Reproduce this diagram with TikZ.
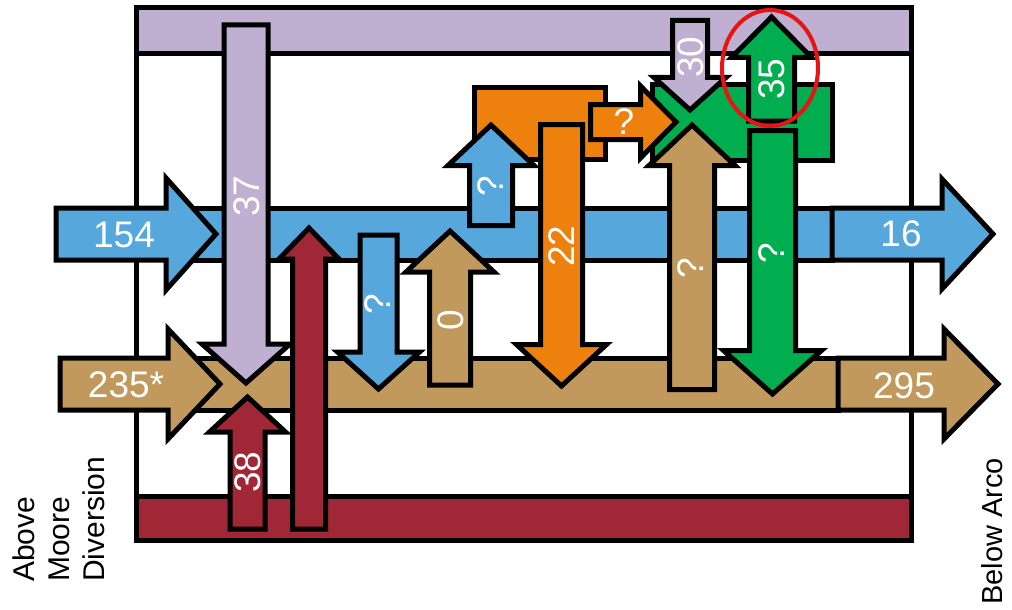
\documentclass[tikz,border=0pt]{standalone}
\usepackage{fontspec}
\setmainfont{Liberation Sans}
\definecolor{cblue}{RGB}{86,167,219}
\definecolor{ctan}{RGB}{193,153,92}
\definecolor{corange}{RGB}{238,128,14}
\definecolor{cgreen}{RGB}{0,174,80}
\definecolor{cpurple}{RGB}{191,175,208}
\definecolor{cmaroon}{RGB}{160,39,53}
\definecolor{cred}{RGB}{230,20,20}
\newcommand{\flowfont}{\fontsize{37}{40}\selectfont}
\newcommand{\sidefont}{\fontsize{30}{35}\selectfont}
\newcommand{\sidefontb}{\fontsize{29}{35}\selectfont}
% vertical block arrow: style, cx, half shaft, start y, head base y, half head, tip y
\newcommand{\varr}[7]{\draw[#1] ({#2-#3},#4) -- ({#2+#3},#4) -- ({#2+#3},#5) -- ({#2+#6},#5) -- (#2,#7) -- ({#2-#6},#5) -- ({#2-#3},#5) -- cycle;}
% horizontal block arrow: style, cy, half shaft, start x, head base x, half head, tip x
\newcommand{\harr}[7]{\draw[#1] (#4,{#2-#3}) -- (#5,{#2-#3}) -- (#5,{#2-#6}) -- (#7,#2) -- (#5,{#2+#6}) -- (#5,{#2+#3}) -- (#4,{#2+#3}) -- cycle;}
\begin{document}
\begin{tikzpicture}[x=1pt,y=-1pt,
  blk/.style={draw=black,line width=5pt,line join=miter,miter limit=10},
  fblue/.style={blk,fill=cblue},
  ftan/.style={blk,fill=ctan},
  forange/.style={blk,fill=corange},
  fgreen/.style={blk,fill=cgreen},
  fpurple/.style={blk,fill=cpurple},
  fmaroon/.style={blk,fill=cmaroon},
  num/.style={text=white,font=\flowfont,inner sep=0pt},
  vnum/.style={num,rotate=90},
  side/.style={text=black,inner sep=0pt,rotate=90}]
\useasboundingbox (0,0) rectangle (1012,610);
% frame
\draw[blk,line cap=round] (136,8) -- (136,540);
\draw[blk,line cap=round] (911,8) -- (911,540);
% bands
\draw[fpurple] (136,8) rectangle (911,54);
\draw[fmaroon] (136,496) rectangle (911,540);
\draw[fblue] (170,208) rectangle (832,260);
\draw[ftan] (175,358) rectangle (838,410);
% boxes
\draw[forange] (474.5,87.5) rectangle (605.5,159.5);
\draw[fgreen] (652.5,84.5) rectangle (832.5,160.5);
% horizontal arrows
\harr{fblue}{234}{26}{56}{166}{56}{216}
\harr{fblue}{234}{26}{832}{942}{55}{993}
\harr{ftan}{384}{26}{60}{168}{55}{220}
\harr{ftan}{384}{26}{838}{944}{55}{998}
% vertical arrows
\varr{fpurple}{246}{22}{25}{344}{44}{383}
\varr{fmaroon}{247.5}{17.5}{529}{432}{38}{397}
\varr{fmaroon}{309}{16.5}{529}{259}{30}{228}
\varr{fblue}{378.5}{18.5}{235}{352}{41}{389}
\varr{ftan}{450}{20.5}{385}{272}{44}{231}
\varr{fblue}{491}{21.5}{225.5}{165.5}{43}{125}
\varr{forange}{561.5}{21}{124.5}{344.5}{45}{386}
\harr{forange}{122}{17.5}{590.5}{640.5}{36}{676}
\varr{fpurple}{690}{17.5}{20.5}{77.5}{36}{110}
\varr{ftan}{692}{22.5}{389.5}{165.5}{43}{125}
\varr{fgreen}{771.5}{23}{121}{57.5}{40}{17}
\varr{fgreen}{772.5}{23}{130.5}{350.5}{49}{394}
% highlight
\draw[cred,line width=4pt] (770,68) ellipse [x radius=48pt, y radius=58pt];
% labels
\node[num] (l154) at (124,235) {154};
\node[num] (l16) at (901,234) {16};
\node[num] (l235) at (126,385) {235*};
\node[num] (l295) at (904,386) {295};
\node[vnum] (l37) at (247,196) {37};
\node[vnum] (l38) at (247.5,472) {38};
\node[vnum] (lq1) at (378,304) {?};
\node[vnum] (l0) at (451,320) {0};
\node[vnum] (lq2) at (491,186) {?};
\node[vnum] (l22) at (562,246) {22};
\node[num] (lq3) at (624,122) {?};
\node[vnum] (l30) at (691,57) {30};
\node[vnum] (l35) at (772,79) {35};
\node[vnum] (lq4) at (772,253) {?};
\node[vnum] (lq5) at (691,268) {?};
\node[side,font=\sidefont,align=left,anchor=north west] (up) at (13,582) {Above\\Moore\\Diversion};
\node[side,font=\sidefontb,anchor=base west] (down) at (1002,605) {Below Arco};
\end{tikzpicture}
\end{document}
